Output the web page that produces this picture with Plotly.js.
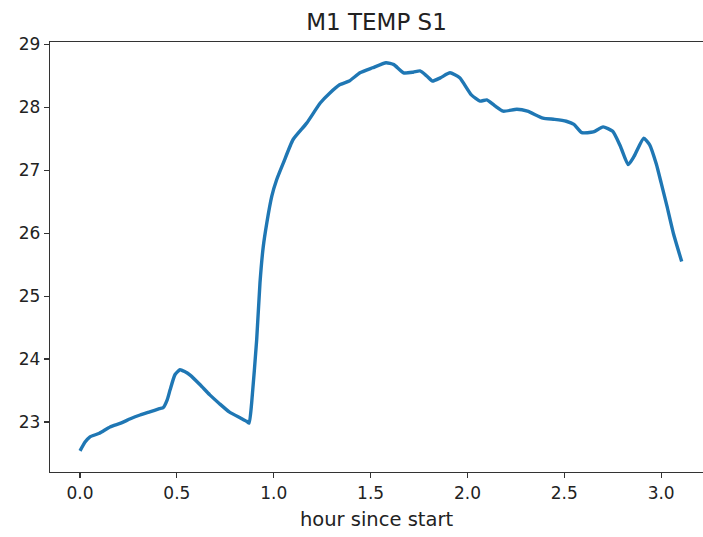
<!DOCTYPE html>
<html>
<head>
<meta charset="utf-8">
<script src="https://cdn.plot.ly/plotly-3.0.1.min.js"></script>
<style>html,body{margin:0;padding:0;overflow:hidden;background:#fff;}</style>
</head>
<body>
<div id="chart" style="width:703px;height:537px;"></div>
<script>
const hours = [0, 0.026, 0.05, 0.10, 0.155, 0.21, 0.26, 0.31, 0.36, 0.41, 0.43, 0.45, 0.465, 0.49, 0.516, 0.54, 0.57, 0.62, 0.67, 0.72, 0.77, 0.83, 0.86, 0.873, 0.886, 0.912, 0.929, 0.946, 0.964, 0.99, 1.015, 1.05, 1.10, 1.17, 1.24, 1.29, 1.34, 1.39, 1.445, 1.51, 1.58, 1.62, 1.67, 1.72, 1.755, 1.79, 1.82, 1.86, 1.91, 1.96, 2.02, 2.065, 2.10, 2.14, 2.185, 2.255, 2.31, 2.39, 2.45, 2.51, 2.55, 2.59, 2.65, 2.70, 2.75, 2.79, 2.83, 2.86, 2.91, 2.94, 2.975, 3.0, 3.03, 3.063, 3.106];
const temps = [22.54, 22.68, 22.76, 22.82, 22.92, 22.98, 23.05, 23.11, 23.16, 23.21, 23.23, 23.35, 23.51, 23.75, 23.83, 23.80, 23.74, 23.59, 23.43, 23.29, 23.16, 23.06, 23.01, 22.98, 23.30, 24.31, 25.21, 25.79, 26.16, 26.59, 26.85, 27.12, 27.49, 27.75, 28.07, 28.23, 28.36, 28.42, 28.55, 28.63, 28.71, 28.68, 28.55, 28.56, 28.58, 28.50, 28.42, 28.47, 28.55, 28.47, 28.20, 28.10, 28.12, 28.03, 27.94, 27.97, 27.94, 27.83, 27.81, 27.78, 27.73, 27.60, 27.61, 27.69, 27.62, 27.38, 27.09, 27.22, 27.51, 27.41, 27.10, 26.80, 26.43, 26.0, 25.55];
const xTickVals = [0.0, 0.5, 1.0, 1.5, 2.0, 2.5, 3.0];
const xTickText = ['0.0', '0.5', '1.0', '1.5', '2.0', '2.5', '3.0'];
const yTickVals = [23, 24, 25, 26, 27, 28, 29];
const titleText = 'M1 TEMP S1';
const xLabel = 'hour since start';

const font = 'DejaVu Sans, sans-serif';
Plotly.newPlot('chart', [{
  x: hours, y: temps, type: 'scatter', mode: 'lines',
  line: {color: '#1f77b4', width: 3.4, shape: 'spline', smoothing: 0.5}, hoverinfo: 'skip'
}], {
  width: 703, height: 537,
  margin: {l: 50, r: 0, t: 42, b: 65, pad: 0},
  paper_bgcolor: '#fff', plot_bgcolor: '#fff',
  showlegend: false,
  font: {family: font, color: '#222'},
  title: {text: titleText, font: {family: font, size: 23, color: '#222'}, x: 0.5, xref: 'paper', xanchor: 'center', y: 1 - 22/537, yref: 'container', yanchor: 'middle'},
  xaxis: {
    range: [-0.155, 3.216], tickmode: 'array', tickvals: xTickVals, ticktext: xTickText,
    showgrid: false, zeroline: false, showline: true, linecolor: '#333', linewidth: 1.2, mirror: true,
    ticks: 'outside', ticklen: 5, tickwidth: 1.2, tickcolor: '#333',
    tickfont: {family: font, size: 17, color: '#222'},
    title: {text: xLabel, font: {family: font, size: 19.5, color: '#222'}, standoff: 10}
  },
  yaxis: {
    range: [22.204, 29.04], tickmode: 'array', tickvals: yTickVals,
    showgrid: false, zeroline: false, showline: true, linecolor: '#333', linewidth: 1.2, mirror: false,
    ticks: 'outside', ticklen: 5, tickwidth: 1.2, tickcolor: '#333',
    tickfont: {family: font, size: 17, color: '#222'}
  }
}, {staticPlot: true, displayModeBar: false});
</script>
</body>
</html>
